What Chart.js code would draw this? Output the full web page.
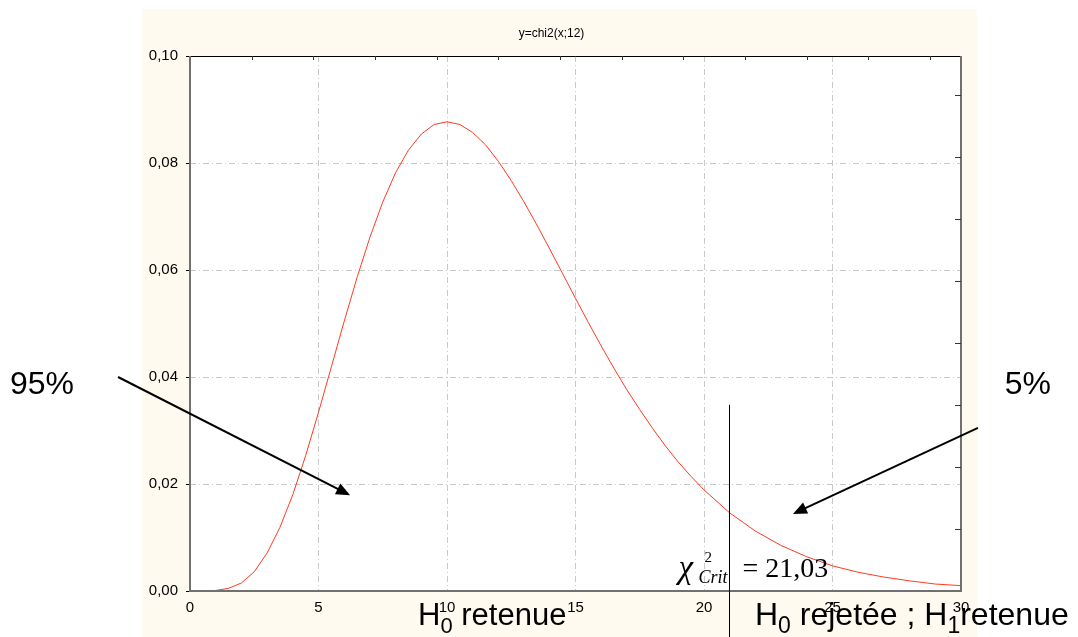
<!DOCTYPE html>
<html>
<head>
<meta charset="utf-8">
<script src="https://cdn.jsdelivr.net/npm/chart.js@4/dist/chart.umd.min.js"></script>
<style>
  html, body { margin: 0; padding: 0; background: #fff; }
  #wrap { width: 1078px; height: 637px; }
</style>
</head>
<body>
<div id="wrap"><canvas id="myChart" width="1078" height="637"></canvas></div>
<script>
// densite chi2 a 12 ddl
var xs = [0, 0.5, 1, 1.5, 2, 2.5, 3, 3.5, 4, 4.5, 5, 5.5, 6, 6.5, 7, 7.5, 8, 8.5, 9, 9.5,
  10, 10.5, 11, 11.5, 12, 12.5, 13, 13.5, 14, 14.5, 15, 15.5, 16, 16.5, 17, 17.5, 18, 18.5, 19, 19.5,
  20, 21, 22, 23, 24, 25, 26, 27, 28, 29, 30];
var ys = [0, 0.0000, 0.0001, 0.0005, 0.0015, 0.0036, 0.0071, 0.0119, 0.0180, 0.0253, 0.0334, 0.0419, 0.0504, 0.0586, 0.0661, 0.0727, 0.0782, 0.0824, 0.0854, 0.0872,
  0.0877, 0.0872, 0.0857, 0.0834, 0.0803, 0.0767, 0.0727, 0.0684, 0.0639, 0.0593, 0.0547, 0.0502, 0.0458, 0.0416, 0.0376, 0.0339, 0.0304, 0.0271, 0.0241, 0.0214,
  0.0189, 0.0146, 0.0112, 0.0085, 0.0064, 0.0047, 0.0035, 0.0026, 0.0019, 0.0013, 0.0010];

var chartTitle = "y=chi2(x;12)";
var xTicksStep = 5;
var yTicksStep = 0.02;
var topTickStep = 2.4;      // graduations du cadre haut
var rightTickStep = 0.0116; // graduations du cadre droit
var critValue = 21.03;
var critLabel = "21,03";

var points = xs.map(function (x, i) { return { x: x, y: ys[i] }; });

function fmt(v) {
  return v.toFixed(2).replace(".", ",");
}

// dessin du fond, du cadre, des fleches et des textes
var deco = {
  id: "deco",
  beforeDraw: function (chart) {
    var ctx = chart.ctx, a = chart.chartArea;
    ctx.save();
    ctx.fillStyle = "#fffaf0";
    ctx.fillRect(142, 9, 835, 628);
    ctx.fillStyle = "#ffffff";
    ctx.fillRect(a.left, a.top, a.right - a.left, a.bottom - a.top);
    ctx.restore();
  },
  afterDraw: function (chart) {
    var ctx = chart.ctx, a = chart.chartArea;
    var sx = chart.scales.x, sy = chart.scales.y;
    ctx.save();

    // cadre
    ctx.strokeStyle = "#000";
    ctx.lineWidth = 1;
    ctx.beginPath();
    ctx.moveTo(a.left, a.top + 0.5);
    ctx.lineTo(a.right, a.top + 0.5);
    ctx.stroke();
    ctx.strokeStyle = "#707070";
    ctx.lineWidth = 2;
    ctx.beginPath();
    ctx.moveTo(a.left, a.top);
    ctx.lineTo(a.left, a.bottom);
    ctx.lineTo(a.right, a.bottom);
    ctx.lineTo(a.right, a.top);
    ctx.stroke();

    // graduations internes haut et droite
    ctx.strokeStyle = "#333";
    ctx.lineWidth = 1;
    ctx.beginPath();
    for (var t = topTickStep; t < sx.max; t += topTickStep) {
      var px = Math.round(sx.getPixelForValue(t)) + 0.5;
      ctx.moveTo(px, a.top);
      ctx.lineTo(px, a.top + 4);
    }
    for (var r = rightTickStep; r < sy.max; r += rightTickStep) {
      var py = Math.round(sy.getPixelForValue(r)) + 0.5;
      ctx.moveTo(a.right, py);
      ctx.lineTo(a.right - 6, py);
    }
    ctx.stroke();

    // ligne critique
    var cx = Math.round(sx.getPixelForValue(critValue)) - 0.5;
    ctx.strokeStyle = "#000";
    ctx.lineWidth = 1;
    ctx.beginPath();
    ctx.moveTo(cx, sy.getPixelForValue(0.0348));
    ctx.lineTo(cx, chart.height);
    ctx.stroke();

    // chi2 critique
    ctx.fillStyle = "#000";
    ctx.textBaseline = "alphabetic";
    ctx.textAlign = "left";
    ctx.font = "italic 33px 'Liberation Serif', 'Times New Roman', serif";
    ctx.fillText("\u03c7", cx - 51, 578);
    ctx.font = "15px 'Liberation Serif', 'Times New Roman', serif";
    ctx.fillText("2", cx - 25, 562);
    ctx.font = "italic 18px 'Liberation Serif', 'Times New Roman', serif";
    ctx.fillText("Crit", cx - 31, 583);
    ctx.font = "28px 'Liberation Serif', 'Times New Roman', serif";
    ctx.fillText("= " + critLabel, cx + 13, 577);

    // fleches
    function arrow(x1, y1, x2, y2) {
      var p1x = sx.getPixelForValue(x1), p1y = sy.getPixelForValue(y1);
      var p2x = sx.getPixelForValue(x2), p2y = sy.getPixelForValue(y2);
      var ang = Math.atan2(p2y - p1y, p2x - p1x);
      var len = 14, w = 6;
      ctx.strokeStyle = "#000";
      ctx.lineWidth = 2;
      ctx.beginPath();
      ctx.moveTo(p1x, p1y);
      ctx.lineTo(p2x - Math.cos(ang) * len * 0.6, p2y - Math.sin(ang) * len * 0.6);
      ctx.stroke();
      ctx.fillStyle = "#000";
      ctx.beginPath();
      ctx.moveTo(p2x, p2y);
      ctx.lineTo(p2x - Math.cos(ang) * len - Math.sin(ang) * w, p2y - Math.sin(ang) * len + Math.cos(ang) * w);
      ctx.lineTo(p2x - Math.cos(ang) * len + Math.sin(ang) * w, p2y - Math.sin(ang) * len - Math.cos(ang) * w);
      ctx.closePath();
      ctx.fill();
    }
    arrow(-2.8, 0.040, 6.23, 0.0179);
    arrow(30.66, 0.0305, 23.46, 0.0144);

    ctx.font = "32px 'Liberation Sans', Arial, sans-serif";
    ctx.textAlign = "center";
    ctx.textBaseline = "middle";
    ctx.fillText("95%", sx.getPixelForValue(-5.76), sy.getPixelForValue(0.0385));
    ctx.fillText("5%", sx.getPixelForValue(32.6), sy.getPixelForValue(0.0385));

    // textes H0 / H1
    function subText(parts, x, y, size) {
      ctx.textAlign = "left";
      ctx.textBaseline = "alphabetic";
      parts.forEach(function (p) {
        ctx.font = (p.sub ? Math.round(size * 0.71) : size) + "px 'Liberation Sans', Arial, sans-serif";
        ctx.fillText(p.t, x, p.sub ? y + 8 : y);
        x += ctx.measureText(p.t).width;
      });
    }
    subText([{ t: "H" }, { t: "0", sub: true }, { t: " retenue" }], 418, 625, 31);
    subText([{ t: "H" }, { t: "0", sub: true }, { t: " rejet\u00e9e ; H" }, { t: "1", sub: true }, { t: "retenue" }], 755, 625, 32);

    ctx.restore();
  }
};

var ctx = document.getElementById("myChart").getContext("2d");
new Chart(ctx, {
  type: "scatter",
  data: {
    datasets: [
      {
        data: points,
        showLine: true,
        borderColor: "#ff3b22",
        borderWidth: 1,
        pointRadius: 0,
        tension: 0,
      },
    ],
  },
  options: {
    responsive: false,
    animation: false,
    layout: { padding: { left: 142, right: 117, top: 0, bottom: 0 } },
    plugins: {
      legend: { display: false },
      tooltip: { enabled: false },
      title: {
        display: true,
        text: chartTitle,
        color: "#000",
        font: { size: 12, family: "'Liberation Sans Narrow', 'Liberation Sans', Arial", weight: "normal" },
        padding: { top: 26, bottom: 15.6 },
      },
    },
    scales: {
      x: {
        type: "linear",
        min: 0,
        max: 30,
        afterFit: function (s) { s.height = 46; },
        ticks: {
          stepSize: xTicksStep,
          color: "#000",
          padding: 8,
          maxRotation: 0,
          font: { size: 15, family: "'Liberation Sans', Arial" },
        },
        grid: { color: "#c8c8c8", drawTicks: false },
        border: { display: false, dash: [6, 3, 1, 3] },
      },
      y: {
        min: 0,
        max: 0.1,
        afterFit: function (s) { s.width = 48; },
        ticks: {
          stepSize: yTicksStep,
          color: "#000",
          padding: 8,
          font: { size: 15, family: "'Liberation Sans', Arial" },
          callback: function (v) { return fmt(v); },
        },
        grid: { color: "#c8c8c8", drawTicks: true, tickLength: 4, tickColor: "#000" },
        border: { display: false, dash: [6, 3, 1, 3] },
      },
    },
  },
  plugins: [deco],
});
</script>
</body>
</html>
